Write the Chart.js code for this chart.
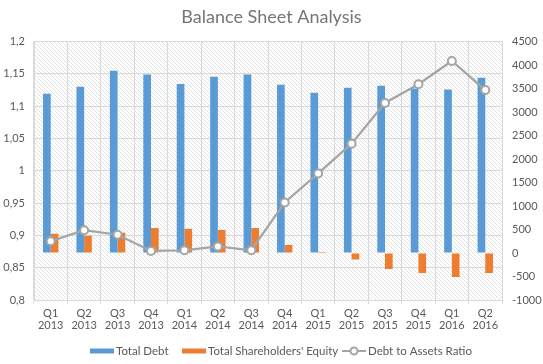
<!DOCTYPE html>
<html>
<head>
<meta charset="utf-8">
<script src="https://cdn.jsdelivr.net/npm/chart.js@4"></script>
<style>
  body { margin: 0; background: #fff; }
  canvas { display: block; }
</style>
</head>
<body>
<canvas id="grafico" width="543" height="364"></canvas>
<script>
const trimestres = [
  ["Q1", "2013"], ["Q2", "2013"], ["Q3", "2013"], ["Q4", "2013"],
  ["Q1", "2014"], ["Q2", "2014"], ["Q3", "2014"], ["Q4", "2014"],
  ["Q1", "2015"], ["Q2", "2015"], ["Q3", "2015"], ["Q4", "2015"],
  ["Q1", "2016"], ["Q2", "2016"]
];
const totalDebt = [3390, 3540, 3880, 3800, 3600, 3750, 3800, 3580, 3410, 3520, 3560, 3500, 3480, 3730];
const totalEquity = [410, 365, 430, 535, 515, 490, 535, 170, 20, -140, -340, -425, -510, -425];
const debtToAssets = [0.891, 0.908, 0.901, 0.876, 0.877, 0.883, 0.877, 0.951, 0.996, 1.042, 1.105, 1.134, 1.17, 1.125];
const ticksIzquierda = ["0,8", "0,85", "0,9", "0,95", "1", "1,05", "1,1", "1,15", "1,2"];
const ticksDerecha = ["-1000", "-500", "0", "500", "1000", "1500", "2000", "2500", "3000", "3500", "4000", "4500"];

const fuente = "Lato, 'Open Sans', sans-serif";
const gris = "#595959";
const rejilla = "#d9d9d9";

// fondo rayado del area del grafico
const fondoRayado = {
  id: "fondoRayado",
  beforeDraw(chart) {
    const { ctx, chartArea: a } = chart;
    const tile = document.createElement("canvas");
    tile.width = 4;
    tile.height = 4;
    const t = tile.getContext("2d");
    t.strokeStyle = "#e2e2e2";
    t.lineWidth = 1;
    t.beginPath();
    t.moveTo(0, 0); t.lineTo(4, 4);
    t.moveTo(-2, 2); t.lineTo(2, 6);
    t.moveTo(2, -2); t.lineTo(6, 2);
    t.stroke();
    ctx.save();
    ctx.fillStyle = ctx.createPattern(tile, "repeat");
    ctx.fillRect(a.left, a.top, a.width, a.height);
    ctx.restore();
  }
};

// leyenda dibujada a mano abajo
const posLeyenda = [90, 182, 342];
const leyenda = {
  id: "leyenda",
  afterDraw(chart) {
    const ctx = chart.ctx;
    const y = 351;
    const muestra = 24;
    ctx.save();
    ctx.font = "11.5px " + fuente;
    ctx.textBaseline = "middle";
    chart.data.datasets.forEach((d, i) => {
      const x = posLeyenda[i];
      if (d.type === "line") {
        ctx.strokeStyle = d.borderColor;
        ctx.lineWidth = 2;
        ctx.beginPath();
        ctx.moveTo(x, y);
        ctx.lineTo(x + muestra, y);
        ctx.stroke();
        ctx.fillStyle = "#fff";
        ctx.beginPath();
        ctx.arc(x + muestra / 2, y, 3.5, 0, Math.PI * 2);
        ctx.fill();
        ctx.stroke();
      } else {
        ctx.fillStyle = d.backgroundColor;
        ctx.fillRect(x, y - 2.5, muestra, 5);
      }
      ctx.fillStyle = gris;
      ctx.fillText(d.label, x + muestra + 2, y);
    });
    ctx.restore();
  }
};

const ctx = document.getElementById("grafico").getContext("2d");

new Chart(ctx, {
  type: "bar",
  data: {
    labels: trimestres,
    datasets: [
      {
        label: "Total Debt",
        data: totalDebt,
        backgroundColor: "#5b9bd5",
        yAxisID: "y1",
        order: 2
      },
      {
        label: "Total Shareholders' Equity",
        data: totalEquity,
        backgroundColor: "#ed7d31",
        yAxisID: "y1",
        order: 3
      },
      {
        type: "line",
        label: "Debt to Assets Ratio",
        data: debtToAssets,
        borderColor: "#a5a5a5",
        borderWidth: 2.25,
        pointRadius: 4,
        pointBorderWidth: 2,
        pointBackgroundColor: "#fff",
        pointBorderColor: "#a5a5a5",
        tension: 0,
        yAxisID: "y",
        order: 1
      }
    ]
  },
  options: {
    responsive: false,
    animation: false,
    categoryPercentage: 0.46,
    barPercentage: 1,
    layout: { padding: 0 },
    plugins: {
      legend: { display: false },
      tooltip: { enabled: false },
      title: {
        display: true,
        text: "Balance Sheet Analysis",
        color: "#757575",
        font: { family: fuente, size: 18, weight: "normal" },
        padding: { top: 6, bottom: 14 }
      }
    },
    scales: {
      x: {
        grid: { color: rejilla, offset: true, tickLength: 4 },
        border: { color: rejilla },
        ticks: {
          color: gris,
          font: { family: fuente, size: 11, lineHeight: 1.1 },
          padding: 3,
          maxRotation: 0,
          autoSkip: false
        },
        afterFit(scale) { scale.height = 64; }
      },
      y: {
        position: "left",
        min: 0.8,
        max: 1.2,
        grid: { color: rejilla, drawTicks: false },
        border: { color: rejilla },
        ticks: {
          stepSize: 0.05,
          color: gris,
          padding: 9,
          font: { family: fuente, size: 11 },
          callback: (v, i) => ticksIzquierda[i]
        },
        afterFit(scale) { scale.width = 34; }
      },
      y1: {
        position: "right",
        min: -1000,
        max: 4500,
        grid: { drawOnChartArea: false, drawTicks: false },
        border: { display: false },
        ticks: {
          stepSize: 500,
          color: gris,
          padding: 10,
          font: { family: fuente, size: 11 },
          callback: (v, i) => ticksDerecha[i]
        },
        afterFit(scale) { scale.width = 41; }
      }
    }
  },
  plugins: [fondoRayado, leyenda]
});
</script>
</body>
</html>
